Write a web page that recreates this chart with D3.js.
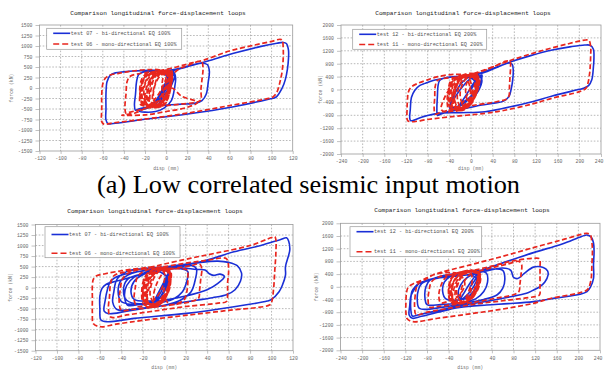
<!DOCTYPE html>
<html><head><meta charset="utf-8">
<script src="https://cdn.jsdelivr.net/npm/d3@7"></script>
<style>body{margin:0;background:#fff} svg{display:block}</style>
</head><body>
<svg id="c" width="604" height="370"></svg>
<script>
// ---------- tick labels ----------
const ticksX120 = [-120,-100,-80,-60,-40,-20,0,20,40,60,80,100,120];
const ticksY1500 = [-1500,-1250,-1000,-750,-500,-250,0,250,500,750,1000,1250,1500];
const ticksX240 = [-240,-200,-160,-120,-80,-40,0,40,80,120,160,200,240];
const ticksY2000 = [-2000,-1600,-1200,-800,-400,0,400,800,1200,1600,2000];

// ---------- texts ----------
const chartTitle = "Comparison longitudinal force-displacement loops";
const xLabel = "disp (mm)";
const yLabel = "force (kN)";
const caption = "(a) Low correlated seismic input motion";
const namesLow = ["test 07 - bi-directional EQ 100%", "test 06 - mono-directional EQ 100%"];
const namesHigh = ["test 12 - bi-directional EQ 200%", "test 11 - mono-directional EQ 200%"];

// ---------- series (disp mm, force kN) ----------
const tlBlue = [[0,0],[3,200],[6,350],[7,400],[5,300],[0,50],[-6,-200],[-10,-350],[-8,-300],[-2,-80],[4,150],[7,330],[8,250],[3,0],[-4,-250],[-7,-400],[-4,-330],[2,-100],[6,120],[8,300],[6,380],[2,200],[-3,-50],[-9,-280],[-14,-420],[-12,-380],[-6,-150],[0,150],[4,350],[8,420],
[15,470],[25,540],[34,590],[39,560],[41,400],[40,150],[38,-150],[34,-300],[28,-360],[15,-385],[5,-400],[-8,-420],
[-18,-460],[-26,-500],[-29,-530],[-30,-400],[-29,-150],[-28,150],[-26,320],[-21,380],[-12,400],[-2,410],
[10,450],[19,510],[38,630],[64,825],[89,985],[105,1065],[111,1085],[114,1060],[116,900],[116,700],[115,450],[113,200],[110,0],[104,-220],[98,-260],[64,-445],[19,-625],[-25,-760],[-50,-845],[-55,-850],[-57,-760],[-57,-500],[-57,-150],[-56,150],[-53,300],[-48,360],[-40,385],[-31,405],[-15,420],[-5,410],
[0,300],[2,100],[-3,-150],[-10,-380],[-18,-480],[-26,-540],[-20,-575],[-10,-560],[-2,-480],[5,-300],[8,0],[9,250],[7,380],[3,250],[-2,0],[-6,-250],[-3,-100],[2,150],[5,300]];

const tlRed = [[-2,-420],[-4,0],[-2,300],[2,380],[5,330],[4,0],[1,-300],[-3,-430],
[-14,-440],[-16,-100],[-12,250],[-4,360],[3,400],[5,250],[3,-150],[-2,-380],
[-18,-430],[-21,-200],[-19,150],[-12,330],[0,390],[4,300],[2,-50],[-4,-330],
[-22,-420],[-24,-150],[-22,200],[-15,350],[-5,400],[2,350],[0,50],[-6,-300],
[-20,-380],[-23,-100],[-20,250],[-10,380],[1,420],[5,380],[5,100],[0,-250],
[-10,-400],[-15,-300],[-14,0],[-10,280],[-2,350],[3,250],[1,-100],[-4,-350],
[-8,-420],[-12,-200],[-10,100],[-5,300],[2,330],[4,150],[1,-200],[-6,-380],
[-17,-400],[-20,-250],[-18,50],[-13,280],[-6,380],[0,400],[3,300],[1,-50],[-3,-300],
[-12,-440],[-22,-380],[-25,-100],[-23,220],[-18,350],[-8,400],[2,420],[6,350],[5,300],
[12,450],[22,550],[32,640],[34,620],[35,450],[34,200],[33,-50],[33,-280],[30,-330],[15,-380],[0,-420],[-12,-440],
[-25,-520],[-35,-580],[-38,-600],[-39,-450],[-38,-150],[-37,150],[-34,280],[-28,330],[-18,370],[-5,420],
[10,500],[20,570],[35,660],[60,880],[85,1030],[100,1110],[108,1160],[110,1140],[111,950],[111,700],[110,400],[108,150],[105,-100],[101,-220],[95,-260],[60,-420],[20,-600],[-20,-740],[-50,-830],[-59,-860],[-61,-800],[-61,-500],[-61,-150],[-60,100],[-58,220],[-54,300],[-45,350],[-30,410],[-15,440],
[-5,420],[0,300],[-3,50],[-10,-250],[-18,-450],[-30,-600],[-42,-645],[-20,-640],[0,-560],[20,-460],[30,-340],[15,-200],[5,0],
[-1,-200],[-6,-400],[-11,-430],[-13,-250],[-11,50],[-7,300],[-1,380],[4,350],[5,150],[2,-200],[-4,-420],[-19,-450],[-23,-250],[-21,50],[-16,300],[-9,390],[-2,410],[3,380],[4,200],[0,-150],[-7,-380],[-16,-440],[-19,-330],[-17,-50],[-14,200],[-8,340],[-3,390],[1,300],[-1,50],[-5,-200],[-12,-390],[-24,-400],[-25,-200],[-23,100],[-19,300],[-11,370],[-4,400],[5,420],[6,250],[3,-50],[-2,-300],[-9,-440],[-15,-420],[-18,-150],[-16,150],[-10,330],[0,360],[3,250],[0,-80]];

const trBlue = [[0,0],[10,250],[18,420],[20,350],[12,50],[0,-250],[-15,-450],[-25,-550],[-20,-450],[-8,-150],[5,200],[15,400],[20,450],[18,250],[8,-50],[-5,-300],[-20,-500],[-35,-620],[-40,-550],[-30,-250],[-15,100],[0,350],[15,480],
[30,560],[50,700],[70,820],[76,780],[78,600],[77,300],[74,0],[70,-220],[60,-360],[40,-430],[20,-480],[0,-550],[-20,-620],[-45,-700],
[-58,-780],[-62,-800],[-63,-600],[-62,-200],[-61,100],[-58,280],[-50,350],[-35,390],[-15,420],
[10,480],[40,650],[75,865],[110,1050],[150,1225],[185,1330],[210,1380],[220,1370],[226,1250],[227,1000],[226,700],[223,300],[217,120],[208,40],[200,5],[150,-200],[113,-377],[60,-580],[26,-688],[-20,-720],[-61,-739],[-90,-850],[-111,-967],[-113,-900],[-112,-600],[-110,-250],[-104,-30],[-95,120],[-85,190],[-70,280],[-50,350],[-30,398],
[-10,400],[5,300],[10,100],[0,-200],[-15,-400],[-30,-560],[-38,-500],[-32,-200],[-20,150],[-5,380],[12,450],[20,300],[15,0],[5,-250]];

const trRed = [[0,0],[-5,-400],[-10,0],[-5,300],[5,420],[12,380],[10,0],[3,-350],[-8,-580],
[-28,-600],[-32,-200],[-26,250],[-10,400],[5,450],[12,300],[8,-150],[-2,-480],
[-35,-580],[-40,-300],[-36,150],[-22,380],[0,440],[10,350],[6,-50],[-6,-420],
[-38,-550],[-42,-200],[-38,250],[-25,400],[-5,450],[8,380],[5,50],[-10,-450],
[-30,-520],[-35,-150],[-30,300],[-15,420],[5,460],[15,380],[14,80],[3,-350],
[-18,-560],[-25,-300],[-22,100],[-12,350],[2,400],[8,250],[4,-200],[-8,-500],
[-22,-580],[-30,-350],[-28,50],[-18,330],[-2,420],[10,420],[12,150],[5,-300],
[-12,-520],[-20,-200],[-15,200],[-5,380],[8,350],[10,100],[2,-300],[-15,-550],
[-36,-600],[-42,-350],[-40,100],[-30,350],[-12,430],[5,480],
[20,560],[45,730],[65,880],[72,870],[73,700],[72,400],[71,100],[70,-200],[65,-300],[40,-400],[0,-500],[-30,-600],
[-55,-700],[-66,-760],[-68,-600],[-67,-250],[-66,100],[-62,280],[-50,340],[-30,380],[-10,420],
[20,580],[75,915],[130,1200],[180,1420],[212,1535],[218,1520],[221,1300],[221,1100],[220,700],[219,500],[216,200],[212,36],[200,-67],[150,-270],[113,-450],[60,-650],[26,-740],[-40,-850],[-80,-930],[-111,-998],[-117,-960],[-118,-600],[-117,-250],[-116,-100],[-111,67],[-98,191],[-80,300],[-61,398],[-30,470],
[-10,430],[0,200],[-5,-100],[-15,-400],[-25,-580],[-45,-700],[-55,-620],[-50,-300],[-40,0],[-25,250],[-10,380],
[0,-300],[-10,-600],[-22,-650],[-30,-400],[-28,0],[-20,300],[-5,450],[8,470],[13,300],[10,-50],[0,-400],[-15,-620],[-40,-640],[-44,-350],[-40,50],[-30,330],[-15,450],[0,500],[12,450],[15,200],[8,-200],[-5,-520],[-25,-650],[-35,-500],[-34,-150],[-25,200],[-10,420],[5,480],[14,380],[12,0],[2,-350],[-12,-600],[-32,-620],[-38,-300],[-34,100],[-22,350],[-6,440],[10,420],[13,150],[5,-250],[-8,-550]];

const blBlue = [[0,0],[4,250],[5,400],[2,200],[-3,-100],[-8,-300],[-10,-350],[-6,-150],[0,150],[4,350],[3,150],[-2,-150],[-6,-300],
[-15,-320],[-28,-280],[-31,-100],[-28,150],[-18,330],[0,420],[15,450],[22,380],[21,150],[17,-100],[8,-280],
[-10,-380],[-30,-400],[-40,-330],[-43,-100],[-40,180],[-30,340],[-12,430],[10,480],[26,520],[30,450],[29,200],[25,-100],[15,-300],
[0,-420],[-25,-500],[-44,-520],[-48,-350],[-47,-100],[-44,200],[-35,380],[-20,450],[3,495],
[20,540],[34,600],[50,630],[60,600],[68,520],[72,350],[71,150],[66,-50],[58,-170],[45,-240],[30,-300],[10,-380],[-15,-480],
[-35,-560],[-52,-620],[-56,-560],[-55,-300],[-53,-50],[-50,150],[-42,280],[-25,380],[-5,440],
[15,470],[30,430],[38,420],[42,330],[46,290],[52,320],[56,260],[50,100],[40,-50],[20,-200],[0,-300],
[-20,-380],[-34,-420],[-37,-200],[-35,50],[-28,250],[-12,400],[3,495],
[34,613],[65,851],[90,1000],[108,1140],[114,1183],[116,1100],[117,900],[116,772],[113,500],[113,297],[110,50],[107,-99],[100,-280],[96,-321],[65,-455],[21,-613],[-28,-732],[-53,-811],[-59,-770],[-60,-500],[-60,-200],[-58,-20],[-54,80],[-45,150],[-30,250],[-15,350],[0,420],
[5,300],[2,0],[-5,-250],[-20,-380],[-35,-300],[-38,-50],[-34,200],[-20,330],[-5,380],[3,250]];

const blRed = [[0,0],[-3,-300],[-8,-380],[-10,-200],[-6,150],[0,380],[4,420],[5,250],[2,-100],[-4,-350],
[-14,-400],[-17,-150],[-14,200],[-6,400],[2,450],[6,300],[4,-50],[-2,-320],
[-16,-380],[-19,-100],[-16,250],[-8,420],[0,440],[5,350],[3,0],[-5,-350],
[-12,-420],[-18,-250],[-17,100],[-11,350],[-2,430],[4,380],[5,100],[0,-250],
[-8,-380],[-13,-200],[-11,150],[-5,380],[3,410],[6,200],[2,-200],[-10,-400],
[-18,-350],[-20,-50],[-17,300],[-9,430],[1,460],[6,380],[5,50],[-3,-300],
[-14,-380],[-16,-120],[-13,220],[-4,400],[4,430],
[15,480],[25,520],[33,560],[35,450],[34,200],[33,-50],[32,-250],[25,-330],[5,-420],[-15,-480],
[-30,-520],[-40,-540],[-42,-350],[-41,-50],[-39,200],[-33,350],[-20,440],[0,500],
[20,580],[40,650],[57,700],[59,650],[60,400],[59,100],[59,-150],[58,-330],[50,-370],[20,-450],[-10,-560],[-35,-650],[-50,-700],
[-52,-500],[-51,-200],[-50,100],[-47,280],[-35,380],[-15,470],[0,560],
[25,700],[50,830],[80,1000],[100,1190],[103,1210],[104,1150],[104,800],[103,400],[102,0],[100,-350],[98,-415],[60,-540],[20,-660],[-20,-780],[-45,-870],[-59,-930],[-66,-860],[-67,-600],[-67,-250],[-67,50],[-66,200],[-63,280],[-55,330],[-40,400],[-25,450],[-10,480],
[0,350],[-2,0],[-10,-300],[-25,-450],[-28,-300],[-27,0],[-25,250],[-18,400],[-5,470],[10,450],[21,420],[22,200],[21,-100],[18,-300],[5,-400],
[-1,-200],[-7,-420],[-14,-430],[-17,-200],[-15,150],[-9,380],[-1,440],[5,400],[6,150],[2,-200],[-5,-420],[-17,-440],[-20,-200],[-18,150],[-12,400],[-3,460],[4,420],[6,200],[3,-150],[-3,-380],[-11,-440],[-16,-300],[-14,0],[-10,300],[-3,420],[3,380],[4,100],[0,-300],[-8,-450],[-19,-400],[-21,-100],[-18,250],[-10,440],[2,470],[6,300],[4,-100]];

const brBlue = [[0,0],[10,250],[15,400],[12,200],[0,-150],[-12,-350],[-18,-400],[-10,-150],[3,200],[15,420],[18,250],[8,-100],[-5,-350],
[-25,-420],[-45,-380],[-51,-150],[-48,150],[-35,350],[-10,450],[15,500],[30,430],[32,150],[25,-150],[10,-380],
[-20,-500],[-55,-560],[-80,-560],[-84,-300],[-82,0],[-75,200],[-55,330],[-25,420],[10,500],[40,560],[60,520],[64,250],[60,-50],[50,-250],[25,-400],
[-10,-520],[-50,-640],[-94,-680],[-98,-400],[-96,-100],[-90,100],[-70,250],[-40,350],[-7,373],
[30,500],[60,590],[75,520],[80,300],[88,260],[100,420],[117,620],[135,610],[143,500],[144,373],[138,150],[129,5],[115,-120],[104,-205],[70,-330],[30,-460],[-20,-600],[-60,-750],[-95,-880],[-107,-920],
[-110,-700],[-110,-400],[-108,-152],[-102,0],[-94,110],[-70,250],[-40,330],[-7,373],
[30,580],[67,793],[117,1076],[170,1350],[205,1580],[216,1633],[224,1560],[228,1380],[229,1108],[228,700],[228,268],[222,-20],[216,-152],[203,-236],[160,-350],[117,-467],[70,-530],[30,-572],[-20,-650],[-60,-800],[-90,-930],[-107,-992],[-113,-887],[-112,-600],[-110,-300],[-106,-152],[-100,0],[-94,110],[-80,200],[-60,270],[-30,330],[-7,373],
[10,300],[12,50],[0,-250],[-15,-400],[-22,-250],[-18,50],[-5,300],[12,420]];

const brRed = [[0,0],[-8,-350],[-15,-480],[-18,-200],[-10,200],[2,420],[12,480],[15,300],[8,-100],[-5,-400],
[-28,-500],[-34,-150],[-28,250],[-12,450],[5,500],[16,400],[14,0],[2,-380],
[-32,-480],[-38,-100],[-33,300],[-18,460],[0,510],[14,430],[10,50],[-4,-420],
[-25,-520],[-35,-250],[-30,150],[-18,400],[0,480],[17,450],[16,100],[5,-300],
[-15,-500],[-25,-200],[-20,200],[-8,420],[8,470],[14,250],[6,-250],[-20,-520],
[-36,-450],[-40,0],[-32,350],[-14,480],[5,520],[18,420],[15,-50],[-2,-400],
[-30,-480],[-34,-50],[-26,300],[-8,460],[10,480],
[40,600],[70,720],[90,800],[95,700],[94,400],[92,100],[90,-150],[80,-250],[50,-350],[10,-480],[-30,-560],
[-60,-620],[-75,-640],[-78,-400],[-76,-100],[-72,150],[-60,300],[-35,400],[0,500],
[40,650],[80,820],[117,898],[128,880],[129,600],[129,300],[129,0],[128,-257],[115,-320],[70,-420],[20,-520],[-30,-650],[-80,-800],[-100,-880],
[-103,-600],[-102,-300],[-100,-50],[-95,120],[-80,260],[-69,373],
[0,690],[60,960],[117,1234],[170,1480],[205,1650],[216,1685],[222,1640],[225,1400],[226,1100],[225,700],[224,300],[220,0],[216,-100],[200,-200],[150,-360],[117,-520],[60,-700],[0,-850],[-60,-990],[-107,-1097],[-117,-1000],[-119,-800],[-119,-500],[-118,-200],[-115,-20],[-105,100],[-90,200],[-69,373],[-40,450],
[-20,400],[-10,100],[-20,-250],[-40,-450],[-55,-500],[-58,-250],[-54,50],[-45,300],[-25,430],[0,480],
[0,-200],[-10,-450],[-22,-500],[-28,-300],[-25,50],[-15,350],[0,480],[12,480],[17,300],[14,-50],[4,-350],[-12,-500],[-36,-480],[-40,-200],[-36,200],[-24,420],[-5,500],[10,500],[17,350],[14,0],[5,-300],[-8,-480],[-30,-500],[-37,-300],[-34,50],[-22,350],[-4,470],[12,450],[16,200],[8,-200],[-4,-450],[-20,-520],[-32,-400],[-30,-50],[-20,300],[-3,460],[15,420]];

// ---------- font detection (pick an installed face) ----------
function pickFont(cands, generic) {
  const ctx = document.createElement('canvas').getContext('2d');
  const s = 'mmmmmmmmmmlli WQ (a) 0123456789';
  const w = f => { ctx.font = '40px ' + f; return ctx.measureText(s).width; };
  for (const c of cands) {
    const q = `'${c}'`;
    if (w(q + ', monospace') !== w('monospace') || w(q + ', sans-serif') !== w('sans-serif')) return q + ', ' + generic;
  }
  return generic;
}
const SERIF = pickFont(['Liberation Serif','Times New Roman','Tinos','DejaVu Serif','Noto Serif','FreeSerif'], 'serif');
const MONO = pickFont(['Liberation Mono','Courier New','Cousine','DejaVu Sans Mono','Noto Sans Mono'], 'monospace');

// ---------- drawing ----------
const svg = d3.select('#c');
const BLUE = '#1a2fd6', RED = '#e8261e';

const panels = [
 {x0:39.5,x1:292.7,y0:25,y1:151, xd:[-120,120], yd:[-1500,1500], xt:ticksX120, yt:ticksY1500,
  blue:tlBlue, red:tlRed, names:namesLow, titleX:158, titleY:14.5, ylx:13, xly:170,
  leg:{x:46.7,y:28.3,w:135,h:21,l1:33.3,l2:44}},
 {x0:341,x1:601,y0:25,y1:154, xd:[-240,240], yd:[-2000,2000], xt:ticksX240, yt:ticksY2000,
  blue:trBlue, red:trRed, names:namesHigh, titleX:463, titleY:15, ylx:322, xly:170,
  leg:{x:352.7,y:29.3,w:134,h:20,l1:34.3,l2:44.5}},
 {x0:35.5,x1:293,y0:224.5,y1:350.7, xd:[-120,120], yd:[-1500,1500], xt:ticksX120, yt:ticksY1500,
  blue:blBlue, red:blRed, names:namesLow, titleX:155, titleY:213, ylx:12, xly:369,
  leg:{x:45,y:226.7,w:135,h:31,l1:234.5,l2:253.3}},
 {x0:340.5,x1:600,y0:223.3,y1:350.3, xd:[-240,240], yd:[-2000,2000], xt:ticksX240, yt:ticksY2000,
  blue:brBlue, red:brRed, names:namesHigh, titleX:462, titleY:212, ylx:318, xly:369,
  leg:{x:350,y:226.7,w:131.7,h:30,l1:231.7,l2:251.7}}
];

panels.forEach(p => {
  const x = d3.scaleLinear().domain(p.xd).range([p.x0, p.x1]);
  const y = d3.scaleLinear().domain(p.yd).range([p.y1, p.y0]);
  const g = svg.append('g');

  // grid
  g.append('g').selectAll('line').data(p.xt.slice(1, -1)).join('line')
    .attr('x1', d => x(d)).attr('x2', d => x(d)).attr('y1', p.y0).attr('y2', p.y1)
    .attr('stroke', '#8a8a8a').attr('stroke-width', 0.6).attr('stroke-dasharray', '1.6,1.6');
  g.append('g').selectAll('line').data(p.yt.slice(1, -1)).join('line')
    .attr('y1', d => y(d)).attr('y2', d => y(d)).attr('x1', p.x0).attr('x2', p.x1)
    .attr('stroke', '#8a8a8a').attr('stroke-width', 0.6).attr('stroke-dasharray', '1.6,1.6');

  // axes
  const ax = g.append('g').attr('transform', `translate(0,${p.y1})`)
    .call(d3.axisBottom(x).tickValues(p.xt).tickSize(3).tickPadding(3).tickFormat(d => d));
  const ay = g.append('g').attr('transform', `translate(${p.x0},0)`)
    .call(d3.axisLeft(y).tickValues(p.yt).tickSize(4).tickPadding(3).tickFormat(d => d));
  [ax, ay].forEach(a => {
    a.select('.domain').remove();
    a.selectAll('line').attr('stroke', '#999').attr('stroke-width', 0.6);
    a.selectAll('text').style('font-family', MONO).attr('font-size', 4.8).attr('fill', '#666');
  });
  ax.selectAll('text').filter(d => x(d) > 598).attr('text-anchor', 'end').attr('dx', 2);

  // frame
  g.append('rect').attr('x', p.x0).attr('y', p.y0).attr('width', p.x1 - p.x0).attr('height', p.y1 - p.y0)
    .attr('fill', 'none').attr('stroke', '#9a9a9a').attr('stroke-width', 0.8);

  // series
  const line = d3.line().x(d => x(d[0])).y(d => y(d[1])).curve(d3.curveCatmullRom.alpha(0.5));
  g.append('path').datum(p.blue).attr('d', line).attr('fill', 'none')
    .attr('stroke', BLUE).attr('stroke-width', 1.6).attr('stroke-linejoin', 'round');
  g.append('path').datum(p.red).attr('d', line).attr('fill', 'none')
    .attr('stroke', RED).attr('stroke-width', 1.7).attr('stroke-dasharray', '5,2.6');

  // legend
  const L = p.leg;
  g.append('rect').attr('x', L.x).attr('y', L.y).attr('width', L.w).attr('height', L.h)
    .attr('fill', '#fff').attr('stroke', '#999').attr('stroke-width', 0.7);
  const lx0 = L.x + 6.5, lx1 = L.x + 23.5;
  g.append('line').attr('x1', lx0).attr('x2', lx1).attr('y1', L.l1).attr('y2', L.l1)
    .attr('stroke', BLUE).attr('stroke-width', 1.6);
  g.append('line').attr('x1', lx0).attr('x2', lx1).attr('y1', L.l2).attr('y2', L.l2)
    .attr('stroke', RED).attr('stroke-width', 1.6).attr('stroke-dasharray', '6,3');
  [L.l1, L.l2].forEach((ly, i) => {
    g.append('text').attr('x', lx1 + 0.5).attr('y', ly + 1.6).text(p.names[i])
      .style('font-family', MONO).attr('font-size', 5.2).attr('fill', '#555');
  });

  // title & labels
  g.append('text').attr('x', p.titleX).attr('y', p.titleY).attr('text-anchor', 'middle')
    .style('font-family', MONO).attr('font-size', 6.1).attr('fill', '#222').text(chartTitle);
  g.append('text').attr('transform', `translate(${p.ylx},${(p.y0 + p.y1) / 2}) rotate(-90)`)
    .attr('text-anchor', 'middle').style('font-family', MONO).attr('font-size', 4.8).attr('fill', '#777').text(yLabel);
  g.append('text').attr('x', (p.x0 + p.x1) / 2).attr('y', p.xly).attr('text-anchor', 'middle')
    .style('font-family', MONO).attr('font-size', 4.8).attr('fill', '#777').text(xLabel);
});

svg.append('text').attr('x', 308.5).attr('y', 193).attr('text-anchor', 'middle')
  .style('font-family', SERIF).attr('font-size', 26).attr('fill', '#000')
  .attr('textLength', 423).attr('lengthAdjust', 'spacingAndGlyphs')
  .text(caption);
</script>
</body></html>
